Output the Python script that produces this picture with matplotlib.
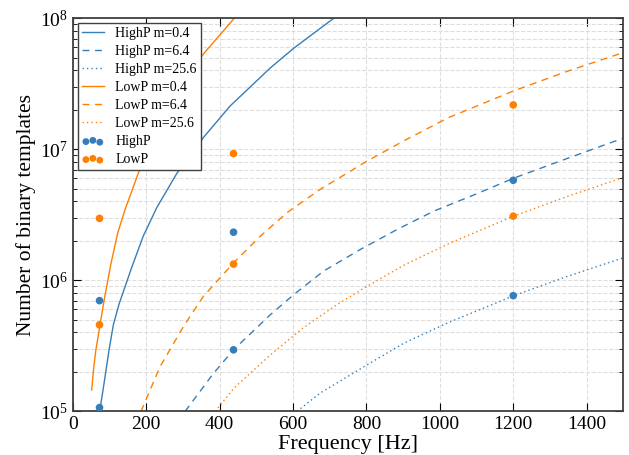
import matplotlib
matplotlib.use("Agg")
import matplotlib.pyplot as plt

BLUE = "#377eb8"
ORANGE = "#ff7f00"

# curves: frequency [Hz] and log10(number of templates)
highp_m04_f = [73.5, 85.4, 99, 110.7, 126.3, 160.9, 192.5, 229, 283.6, 356, 429, 538, 601.6, 715]
highp_m04_n = [5.0, 5.215, 5.47, 5.661, 5.82, 6.10, 6.34, 6.555, 6.816, 7.09, 7.331, 7.62, 7.77, 8.008]

lowp_m04_f = [51.7, 56, 62.6, 74.4, 85.4, 103.6, 122.7, 142.6, 179, 220, 292.6, 356, 442.6]
lowp_m04_n = [5.164, 5.30, 5.46, 5.661, 5.845, 6.12, 6.363, 6.54, 6.82, 7.10, 7.484, 7.727, 8.008]

highp_m64_f = [306, 383.4, 438, 538, 601.6, 683, 783, 883.6, 983.5, 1100, 1201.5, 1347, 1500]
highp_m64_n = [5.0, 5.29, 5.47, 5.737, 5.89, 6.07, 6.235, 6.388, 6.528, 6.66, 6.78, 6.93, 7.085]

lowp_m64_f = [186, 238, 301.6, 356, 438, 511, 583.6, 674, 801.7, 901.6, 1024, 1201.5, 1347, 1500]
lowp_m64_n = [5.0, 5.342, 5.648, 5.878, 6.133, 6.337, 6.516, 6.694, 6.91, 7.064, 7.242, 7.446, 7.595, 7.738]

highp_m256_f = [611, 674, 801.7, 901.6, 1020, 1201.5, 1347, 1500]
highp_m256_n = [5.0, 5.14, 5.355, 5.52, 5.674, 5.883, 6.03, 6.172]

lowp_m256_f = [388, 440, 538, 629, 720, 801.7, 901.6, 1029, 1201.5, 1347, 1500]
lowp_m256_n = [5.0, 5.18, 5.43, 5.64, 5.815, 5.954, 6.115, 6.286, 6.49, 6.64, 6.785]

# measured template counts
highp_f = [73, 73, 438, 438, 1200, 1200]
highp_n = [1.07e5, 7.0e5, 2.33e6, 2.95e5, 5.8e6, 7.64e5]
lowp_f = [73, 73, 438, 438, 1200, 1200]
lowp_n = [2.97e6, 4.58e5, 9.27e6, 1.33e6, 2.18e7, 3.09e6]

plt.rcParams["font.family"] = ["Liberation Serif", "DejaVu Serif"]
plt.rcParams["mathtext.fontset"] = "custom"
plt.rcParams["mathtext.rm"] = "Liberation Serif"
plt.rcParams["mathtext.it"] = "Liberation Serif:italic"


def pw(vals):
    return [10 ** v for v in vals]


fig = plt.figure(figsize=(6.29, 4.55), dpi=100)
ax = fig.add_axes([0.1156, 0.0958, 0.8755, 0.8642])

dash = (0, (5, 4))
dot = (0, (1, 2.2))
ax.plot(highp_m04_f, pw(highp_m04_n), color=BLUE, lw=1.0, label="HighP m=0.4")
ax.plot(highp_m64_f, pw(highp_m64_n), color=BLUE, lw=1.0, ls=dash, label="HighP m=6.4")
ax.plot(highp_m256_f, pw(highp_m256_n), color=BLUE, lw=1.0, ls=dot, label="HighP m=25.6")
ax.plot(lowp_m04_f, pw(lowp_m04_n), color=ORANGE, lw=1.0, label="LowP m=0.4")
ax.plot(lowp_m64_f, pw(lowp_m64_n), color=ORANGE, lw=1.0, ls=dash, label="LowP m=6.4")
ax.plot(lowp_m256_f, pw(lowp_m256_n), color=ORANGE, lw=1.0, ls=dot, label="LowP m=25.6")
ax.scatter(highp_f, highp_n, s=30, color=BLUE, edgecolors="none", zorder=3, label="HighP")
ax.scatter(lowp_f, lowp_n, s=30, color=ORANGE, edgecolors="none", zorder=3, label="LowP")

ax.set_yscale("log")
ax.set_xlim(0, 1500)
ax.set_ylim(1e5, 1e8)
ax.set_xticks(range(0, 1500, 200))
ax.grid(True, which="both", ls="--", color="0.87", lw=0.8)
ax.set_axisbelow(True)
ax.tick_params(which="both", direction="in", top=True, right=True, labelsize=14)
ax.tick_params(which="major", length=6)
ax.tick_params(which="minor", length=3)
for s in ax.spines.values():
    s.set_color("0.25")
    s.set_linewidth(1.3)

ax.set_xlabel("Frequency [Hz]", fontsize=16, labelpad=1)
ax.set_ylabel("Number of binary templates", fontsize=15.5, labelpad=3)

leg = ax.legend(loc="upper left", fontsize=10, scatterpoints=3, fancybox=False,
                framealpha=1, handlelength=1.6, labelspacing=0.36, borderpad=0.3,
                handletextpad=0.8, borderaxespad=0.35, markerscale=0.9)
leg.get_frame().set_edgecolor("0.25")
leg.get_frame().set_linewidth(1.0)

fig.savefig("out.png", dpi=100)
